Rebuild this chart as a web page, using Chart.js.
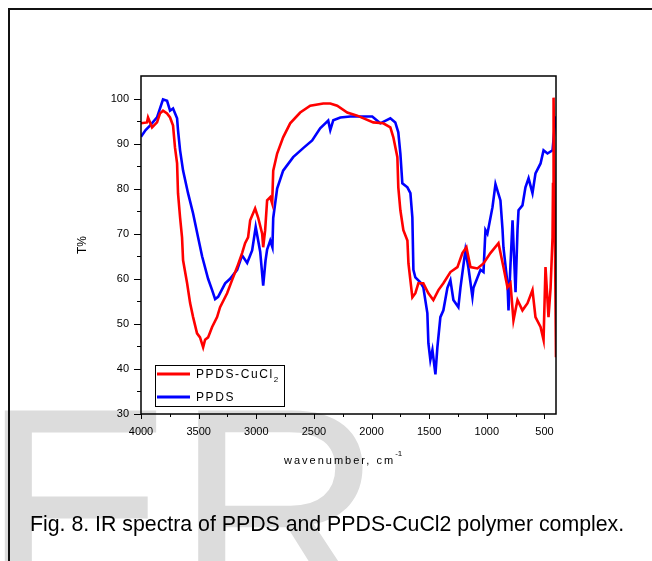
<!DOCTYPE html>
<html>
<head>
<meta charset="utf-8">
<script src="https://cdn.jsdelivr.net/npm/chart.js@4.4.1/dist/chart.umd.min.js"></script>
<style>
  html, body { margin: 0; padding: 0; background: #fff; }
  body { width: 652px; height: 561px; position: relative; overflow: hidden; font-family: "Liberation Sans", Arial, sans-serif; }
  #mark { position: absolute; left: -19px; top: 364px; font-size: 290px; line-height: 290px; color: #dcdcdc; white-space: nowrap; }
  #frame { position: absolute; left: 8px; top: 8px; width: 700px; height: 600px; border-left: 2px solid #111; border-top: 2px solid #111; }
  #wrap { position: absolute; left: 0; top: 0; width: 652px; height: 561px; }
  #caption { position: absolute; left: 30px; top: 514px; font-size: 21.3px; line-height: 21px; color: #000; white-space: nowrap; }
</style>
</head>
<body>
<div id="mark">ER</div>
<div id="frame"></div>
<div id="wrap"><canvas id="ir-chart"></canvas></div>
<div id="caption">Fig. 8. IR spectra of PPDS and PPDS-CuCl2 polymer complex.</div>
<script>
// series names
const seriesNames = ['PPDS-CuCl2', 'PPDS'];

// axis tick values
const xTickValues = [4000, 3500, 3000, 2500, 2000, 1500, 1000, 500];
const yTickValues = [30, 40, 50, 60, 70, 80, 90, 100];

// PPDS-CuCl2 (red): wavenumber, cm-1 / T%
const cuclWave = [4000, 3948, 3939, 3904, 3861, 3835, 3809, 3774, 3748, 3722, 3705, 3687, 3679, 3661, 3644, 3635,
  3600, 3574, 3548, 3514, 3488, 3461, 3444, 3418, 3383, 3340, 3314, 3253, 3210, 3166, 3123, 3097, 3071, 3053,
  3010, 2984, 2949, 2940, 2923, 2906, 2879, 2862, 2853, 2819, 2767, 2706, 2619, 2532, 2419, 2358, 2298, 2211,
  2124, 1985, 1898, 1837, 1811, 1776, 1768, 1750, 1724, 1689, 1680, 1646, 1620, 1594, 1551, 1507, 1464, 1420,
  1377, 1316, 1255, 1212, 1177, 1142, 1082, 1029, 969, 899, 856, 821, 795, 769, 734, 691, 647, 604, 578, 534,
  508, 491, 465, 447, 430, 426, 421, 413, 400];
const cuclT = [94.5, 94.7, 95.8, 93.6, 94.7, 96.7, 97.3, 96.7, 95.8, 94, 89.1, 85.6, 79, 73.6, 69.2, 64.1,
  59, 54.6, 51.5, 47.9, 47, 44.8, 46.5, 47, 49.3, 51.5, 53.7, 56.8, 59.7, 62.6, 65.7, 67.9, 69.2, 73,
  75.6, 73.6, 70, 67, 70.8, 77.4, 78.1, 76.7, 84, 87.8, 91.4, 94.5, 96.9, 98.4, 98.9, 98.9, 98.4, 96.9,
  96.2, 94.7, 94.5, 93.6, 91.4, 87, 80.3, 75.2, 70.8, 68.5, 63.4, 55.9, 56.8, 59, 59, 56.8, 55.3, 57.5,
  59, 61.5, 62.6, 65.7, 67, 62.6, 62.3, 63.4, 65.7, 67.9, 62.6, 58.1, 59, 50.8, 55.3, 53, 54.6, 57.5, 51.5, 49.3,
  46.4, 62.6, 51.5, 58, 69.2, 81, 100.2, 80, 42.6];

// PPDS (blue)
const ppdsWave = [4000, 3960, 3922, 3861, 3809, 3774, 3748, 3722, 3687, 3679, 3661, 3635, 3592, 3548, 3505, 3470,
  3418, 3383, 3357, 3331, 3270, 3227, 3166, 3123, 3079, 3036, 3005, 2966, 2940, 2920, 2906, 2879, 2860, 2853,
  2819, 2767, 2680, 2593, 2515, 2446, 2376, 2358, 2332, 2271, 2185, 2098, 1994, 1924, 1837, 1794, 1768, 1750,
  1733, 1689, 1663, 1646, 1637, 1620, 1577, 1551, 1516, 1507, 1490, 1472, 1446, 1429, 1403, 1377, 1342, 1316,
  1290, 1247, 1229, 1186, 1160, 1125, 1116, 1055, 1029, 1012, 995, 951, 925, 882, 864, 856, 821, 812, 795, 777,
  769, 751, 734, 725, 691, 665, 638, 604, 578, 534, 508, 474, 430, 404, 400];
const ppdsT = [91.5, 93, 94, 95.8, 99.8, 99.5, 97.3, 97.8, 95.6, 93, 88.5, 84, 79, 74.5, 69.2, 65,
  60, 57.5, 55.5, 56, 59, 60, 62, 65.2, 63.5, 66.3, 71.5, 66, 58.5, 64, 66.5, 68.5, 67, 73.5,
  80, 84, 87, 89, 90.7, 93.4, 95.1, 93, 95.2, 95.8, 96, 96, 96, 94.5, 95.6, 94.7, 92.5, 87.8,
  81.2, 80.3, 79, 73.6, 62, 60.3, 59.2, 58.1, 52.4, 45.7, 42, 44.2, 38.8, 44.8, 51.5, 53, 58, 59.7,
  55.3, 53.7, 58, 66.3, 62.5, 56, 58, 62, 61.5, 70.8, 70, 75.9, 81, 77.4, 71, 67, 59, 53, 63, 73,
  68, 57, 70.8, 75.2, 76.3, 80.3, 82.3, 79, 83.4, 85.6, 88.5, 87.8, 88.5, 95.8, 96];

const FONT = '"Liberation Sans", Arial, sans-serif';
Chart.defaults.font.family = FONT;
Chart.defaults.color = '#000';

const toPoints = (xs, ys) => xs.map((x, i) => ({ x, y: ys[i] }));

// frame, tick marks, axis titles and legend
const decorations = {
  id: 'decorations',
  afterDraw(chart) {
    const { ctx, chartArea: a, scales: { x, y } } = chart;
    ctx.save();
    ctx.strokeStyle = '#000';
    ctx.lineWidth = 1.5;
    ctx.strokeRect(a.left, a.top, a.right - a.left, a.bottom - a.top);

    ctx.lineWidth = 1;
    ctx.beginPath();
    for (let v = 4000; v >= 500; v -= 250) {
      const px = Math.round(x.getPixelForValue(v)) + 0.5;
      const len = v % 500 === 0 ? 5 : 3;
      ctx.moveTo(px, a.bottom); ctx.lineTo(px, a.bottom + len);
    }
    for (let v = 30; v <= 100; v += 5) {
      const py = Math.round(y.getPixelForValue(v)) + 0.5;
      const len = v % 10 === 0 ? 7 : 4;
      ctx.moveTo(a.left, py); ctx.lineTo(a.left - len, py);
    }
    ctx.stroke();

    // x title with superscript
    ctx.fillStyle = '#000';
    ctx.textBaseline = 'middle';
    ctx.textAlign = 'left';
    ctx.font = '11px ' + FONT;
    ctx.letterSpacing = '2px';
    const t = 'wavenumber, cm';
    ctx.fillText(t, 284, 461);
    const w = ctx.measureText(t).width;
    ctx.font = '8px ' + FONT;
    ctx.letterSpacing = '0px';
    ctx.fillText('-1', 284 + w, 454);

    // y title
    ctx.save();
    ctx.translate(83, 245);
    ctx.rotate(-Math.PI / 2);
    ctx.textAlign = 'center';
    ctx.font = '12px ' + FONT;
    ctx.fillText('T%', 0, 0);
    ctx.restore();

    // legend
    const lx = 155, ly = 365, lw = 129, lh = 41;
    ctx.fillStyle = '#fff';
    ctx.fillRect(lx, ly, lw, lh);
    ctx.lineWidth = 1;
    ctx.strokeStyle = '#000';
    ctx.strokeRect(lx + 0.5, ly + 0.5, lw, lh);
    const rows = [
      { c: chart.data.datasets[0].borderColor, yy: 374, name: 'PPDS-CuCl', sub: '2' },
      { c: chart.data.datasets[1].borderColor, yy: 397, name: 'PPDS', sub: '' }
    ];
    rows.forEach(r => {
      ctx.strokeStyle = r.c;
      ctx.lineWidth = 3;
      ctx.beginPath();
      ctx.moveTo(157, r.yy); ctx.lineTo(190, r.yy);
      ctx.stroke();
      ctx.fillStyle = '#000';
      ctx.font = '12px ' + FONT;
      ctx.letterSpacing = '1.6px';
      ctx.fillText(r.name, 196, r.yy + 1);
      if (r.sub) {
        const nw = ctx.measureText(r.name).width;
        ctx.font = '8px ' + FONT;
        ctx.letterSpacing = '0px';
        ctx.fillText(r.sub, 196 + nw, r.yy + 6);
      }
    });
    ctx.letterSpacing = '0px';
    ctx.restore();
  }
};

new Chart(document.getElementById('ir-chart'), {
  type: 'line',
  data: {
    datasets: [
      { label: seriesNames[0], data: toPoints(cuclWave, cuclT), borderColor: '#ff0000', borderWidth: 2.6 },
      { label: seriesNames[1], data: toPoints(ppdsWave, ppdsT), borderColor: '#0000ff', borderWidth: 2.6 }
    ]
  },
  options: {
    responsive: true,
    maintainAspectRatio: false,
    animation: false,
    events: [],
    layout: { padding: { left: 0, top: 76, right: 96, bottom: 0 } },
    elements: { point: { radius: 0 }, line: { tension: 0 } },
    plugins: { legend: { display: false }, tooltip: { enabled: false } },
    scales: {
      x: {
        type: 'linear',
        reverse: true,
        min: 400,
        max: 4000,
        grid: { display: false, drawTicks: false },
        border: { display: false },
        ticks: { autoSkip: false, maxRotation: 0, padding: 11, font: { size: 11 }, callback: v => String(v) },
        afterBuildTicks: s => { s.ticks = xTickValues.map(v => ({ value: v })); },
        afterFit: s => { s.height = 147; }
      },
      y: {
        min: 30,
        max: 105,
        grid: { display: false, drawTicks: false },
        border: { display: false },
        ticks: { autoSkip: false, padding: 12, font: { size: 11 }, callback: v => String(v) },
        afterBuildTicks: s => { s.ticks = yTickValues.map(v => ({ value: v })); },
        afterFit: s => { s.width = 141; }
      }
    }
  },
  plugins: [decorations]
});
</script>
</body>
</html>
